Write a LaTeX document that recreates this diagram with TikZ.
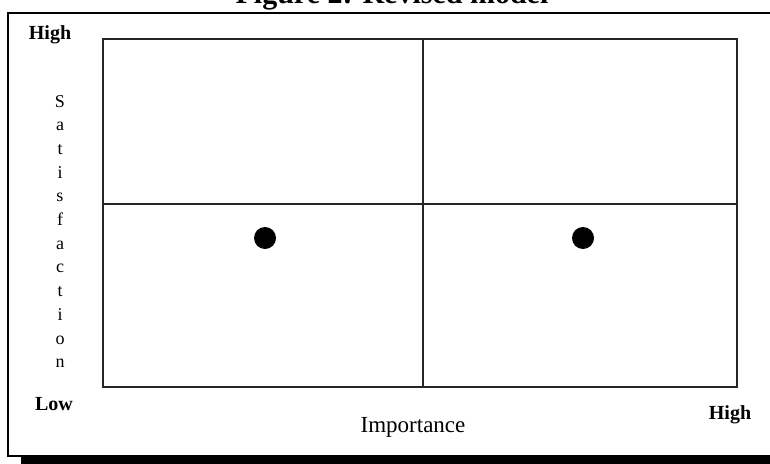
\documentclass[tikz,border=0pt]{standalone}
\usepackage{fontspec}
\setmainfont{Liberation Serif}

\begin{document}
\begin{tikzpicture}[
    x=1pt, y=-1pt,
    every node/.style={inner sep=0pt},
    tag/.style={font=\fontsize{20}{24}\selectfont\bfseries, anchor=base},
    quad/.style={draw=black!85, line width=1.5pt}
]
\useasboundingbox (0,0) rectangle (770,463);

\def\gl{103}
\def\gr{737}
\def\gt{39}
\def\gb{387}
\def\gm{423}
\def\gh{204}

% frame with shadow
\fill (21,456) rectangle (800,480);
\draw[line width=2.6pt, fill=white] (8,13) rectangle (790,456);

% title (cut by the page edge)
\node[font=\fontsize{30}{34}\selectfont\bfseries, anchor=base] (title) at (392,4) {Figure 2: Revised model};

% grid
\draw[quad] (\gl,\gt) rectangle (\gr,\gb);
\coordinate (mtop) at (\gm,\gt);
\coordinate (mbot) at (\gm,\gb);
\coordinate (mleft) at (\gl,\gh);
\coordinate (mright) at (\gr,\gh);
\draw[quad] (mtop) -- (mbot);
\draw[quad] (mleft) -- (mright);

% points
\fill (265,238) circle (11);
\fill (583,238) circle (11);

% axis ends
\node[tag] (yhigh) at (50,39) {High};
\node[tag] (ylow) at (54,410) {Low};
\node[tag] (xhigh) at (730,419) {High};

% axis names
\node[font=\fontsize{23}{26}\selectfont, anchor=base] (imp) at (413,432) {Importance};
\foreach \ch [count=\i from 0] in {S,a,t,i,s,f,a,c,t,i,o,n}
  \node[font=\fontsize{18}{20}\selectfont, anchor=base] (sat\i) at (60,{107+\i*23.7}) {\ch};

\end{tikzpicture}
\end{document}
